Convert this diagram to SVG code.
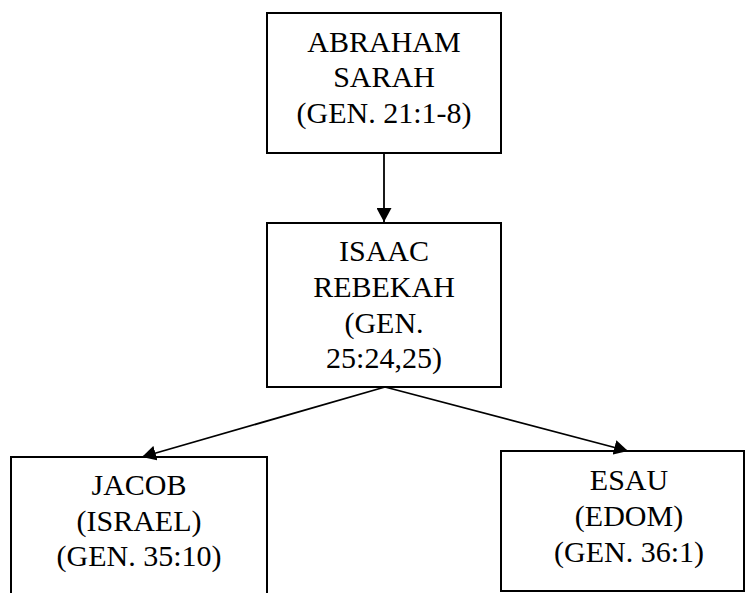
<svg xmlns="http://www.w3.org/2000/svg" width="747" height="593" viewBox="0 0 747 593">
<style>
.box{fill:#fff;stroke:#000;stroke-width:2}
.t{font-family:"Liberation Serif","Times New Roman",serif;font-size:30px;fill:#000;text-anchor:middle}
.conn line{stroke:#000;stroke-width:1.8}
</style>
<defs>
<marker id="ah" markerUnits="userSpaceOnUse" markerWidth="15" markerHeight="15" viewBox="0 0 15 15" refX="14" refY="7.5" orient="auto">
<path d="M0,0 L14,7.5 L0,15 z" fill="#000"/>
</marker>
</defs>
<rect width="747" height="593" fill="#fff"/>
<g id="abraham">
<rect class="box" x="267" y="13" width="234" height="140"/>
<text class="t" x="384" y="51.5">ABRAHAM</text>
<text class="t" x="384" y="87">SARAH</text>
<text class="t" x="384" y="122.5">(GEN. 21:1-8)</text>
</g>
<g id="isaac">
<rect class="box" x="267" y="223" width="234" height="164"/>
<text class="t" x="384" y="261">ISAAC</text>
<text class="t" x="384" y="296.5">REBEKAH</text>
<text class="t" x="384" y="332.5">(GEN.</text>
<text class="t" x="384" y="368">25:24,25)</text>
</g>
<g id="jacob">
<rect class="box" x="11" y="457" width="256" height="160"/>
<text class="t" x="139" y="495">JACOB</text>
<text class="t" x="139" y="531">(ISRAEL)</text>
<text class="t" x="139" y="565.5">(GEN. 35:10)</text>
</g>
<g id="esau">
<rect class="box" x="501" y="451" width="243" height="140"/>
<text class="t" x="629" y="490">ESAU</text>
<text class="t" x="629" y="526">(EDOM)</text>
<text class="t" x="629" y="561.5">(GEN. 36:1)</text>
</g>
<g class="conn" id="connectors">
<line x1="384" y1="153" x2="384" y2="222" marker-end="url(#ah)"/>
<line x1="385" y1="387" x2="142" y2="457" marker-end="url(#ah)"/>
<line x1="385" y1="387" x2="628" y2="451" marker-end="url(#ah)"/>
</g>
</svg>
